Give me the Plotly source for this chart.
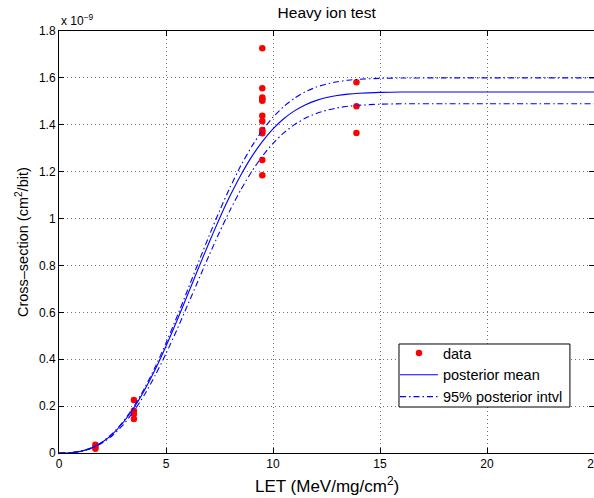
import plotly.graph_objects as go

# ---- data (cross-section in units of 1e-9 cm^2/bit) ----
data_let = [1.7, 1.7, 1.7,
            3.5, 3.5, 3.5, 3.5,
            9.5, 9.5, 9.5, 9.5, 9.5, 9.5, 9.5, 9.5, 9.5, 9.5, 9.5, 9.5,
            13.9, 13.9, 13.9]
data_xs = [0.035, 0.025, 0.018,
           0.226, 0.180, 0.166, 0.145,
           1.726, 1.556, 1.516, 1.509, 1.502, 1.438, 1.415, 1.378, 1.371, 1.364, 1.250, 1.185,
           1.581, 1.479, 1.365]

curve_let = [0, 0.5, 1, 1.5, 2, 2.5, 3, 3.5, 4, 4.5, 5, 5.5, 6, 6.5, 7, 7.5, 8, 8.5,
             9, 9.5, 10, 10.5, 11, 11.5, 12, 12.5, 13, 13.5, 14, 15, 16, 18, 20, 25]
post_mean = [0, 0.0011, 0.0070, 0.0208, 0.0448, 0.0809, 0.1302, 0.1930, 0.2690, 0.3570,
             0.4555, 0.5616, 0.6727, 0.7846, 0.8949, 1.0002, 1.0979, 1.1860, 1.2630, 1.3280,
             1.3825, 1.4257, 1.4593, 1.4846, 1.5030, 1.5161, 1.5250, 1.5309, 1.5346, 1.5383,
             1.5395, 1.5400, 1.5400, 1.5400]
post_upper = [0, 0.0011, 0.0072, 0.0214, 0.0461, 0.0832, 0.1339, 0.1984, 0.2768, 0.3677,
              0.4690, 0.5784, 0.6931, 0.8090, 0.9234, 1.0328, 1.1342, 1.2261, 1.3066, 1.3754,
              1.4322, 1.4778, 1.5134, 1.5403, 1.5600, 1.5739, 1.5836, 1.5899, 1.5940, 1.5981,
              1.5995, 1.6000, 1.6000, 1.6000]
post_lower = [0, 0.0010, 0.0065, 0.0192, 0.0414, 0.0748, 0.1204, 0.1788, 0.2494, 0.3317,
              0.4238, 0.5234, 0.6282, 0.7347, 0.8404, 0.9418, 1.0369, 1.1233, 1.1999, 1.2656,
              1.3206, 1.3653, 1.4005, 1.4276, 1.4475, 1.4619, 1.4720, 1.4788, 1.4832, 1.4878,
              1.4895, 1.4900, 1.4900, 1.4900]

x_ticks = [0, 5, 10, 15, 20, 25]
y_ticks = [0, 0.2, 0.4, 0.6, 0.8, 1.0, 1.2, 1.4, 1.6, 1.8]
y_tick_text = ["0", "0.2", "0.4", "0.6", "0.8", "1", "1.2", "1.4", "1.6", "1.8"]

FONT = "Liberation Sans, Arial, Helvetica, sans-serif"
BLUE = "rgb(0,0,255)"
DASHDOT = "6px,3px,1.5px,3px"

fig = go.Figure()
fig.add_trace(go.Scatter(x=data_let, y=data_xs, mode="markers", name="data",
                         marker=dict(color="rgb(255,0,0)", size=6.5, line=dict(width=0))))
fig.add_trace(go.Scatter(x=curve_let, y=post_mean, mode="lines", name="posterior mean",
                         line=dict(color=BLUE, width=1.1, shape="spline", smoothing=0.6)))
fig.add_trace(go.Scatter(x=curve_let, y=post_upper, mode="lines", name="95% posterior intvl",
                         line=dict(color=BLUE, width=1.1, dash=DASHDOT, shape="spline", smoothing=0.6)))
fig.add_trace(go.Scatter(x=curve_let, y=post_lower, mode="lines", name="95% posterior intvl",
                         showlegend=False,
                         line=dict(color=BLUE, width=1.1, dash=DASHDOT, shape="spline", smoothing=0.6)))

axis_common = dict(
    showline=True, linecolor="black", linewidth=1, mirror="ticks",
    ticks="inside", ticklen=5, tickcolor="black", tickwidth=1,
    showgrid=True, gridcolor="rgba(0,0,0,0.55)", gridwidth=1, griddash="1px,3px",
    zeroline=False, automargin=False,
    tickfont=dict(family=FONT, size=12, color="black"),
)

fig.update_layout(
    width=594, height=498,
    margin=dict(l=59, r=0, t=31, b=45),
    paper_bgcolor="white", plot_bgcolor="white",
    font=dict(family=FONT, color="black"),
    title=dict(text="Heavy ion test", x=0.55, xanchor="center", y=0.975, yanchor="middle",
               font=dict(family=FONT, size=15.5, color="black")),
    xaxis=dict(range=[0, 25], tickvals=x_ticks, ticklabeloverflow="allow", **axis_common),
    yaxis=dict(range=[0, 1.8], tickvals=y_ticks, ticktext=y_tick_text, **axis_common),
    legend=dict(x=0.628, y=0.2749, xanchor="left", yanchor="top",
                bgcolor="rgba(0,0,0,0)", borderwidth=0,
                font=dict(family=FONT, size=14.5, color="black"),
                tracegroupgap=0, itemwidth=38),
    showlegend=True,
)

# legend frame (opaque box behind the legend entries)
fig.add_shape(type="rect", xref="paper", yref="paper",
              x0=0.6355, x1=0.955, y0=0.109, y1=0.2583,
              line=dict(color="black", width=1), fillcolor="white", layer="above")

# axis titles
fig.add_annotation(text="LET (MeV/mg/cm<sup>2</sup>)", xref="paper", yref="paper",
                   x=0.501, y=-0.076, xanchor="center", yanchor="middle", showarrow=False,
                   font=dict(family=FONT, size=17, color="black"))
fig.add_annotation(text="Cross–section (cm<sup>2</sup>/bit)", xref="paper", yref="paper",
                   x=-0.069, y=0.5, xanchor="center", yanchor="middle", showarrow=False,
                   textangle=-90, font=dict(family=FONT, size=14.5, color="black"))

fig.add_annotation(text="x 10<sup>−9</sup>", xref="paper", yref="paper", x=0, y=1,
                   xanchor="left", yanchor="bottom", showarrow=False, yshift=1,
                   font=dict(family=FONT, size=12, color="black"))

fig.write_html("out.html")
